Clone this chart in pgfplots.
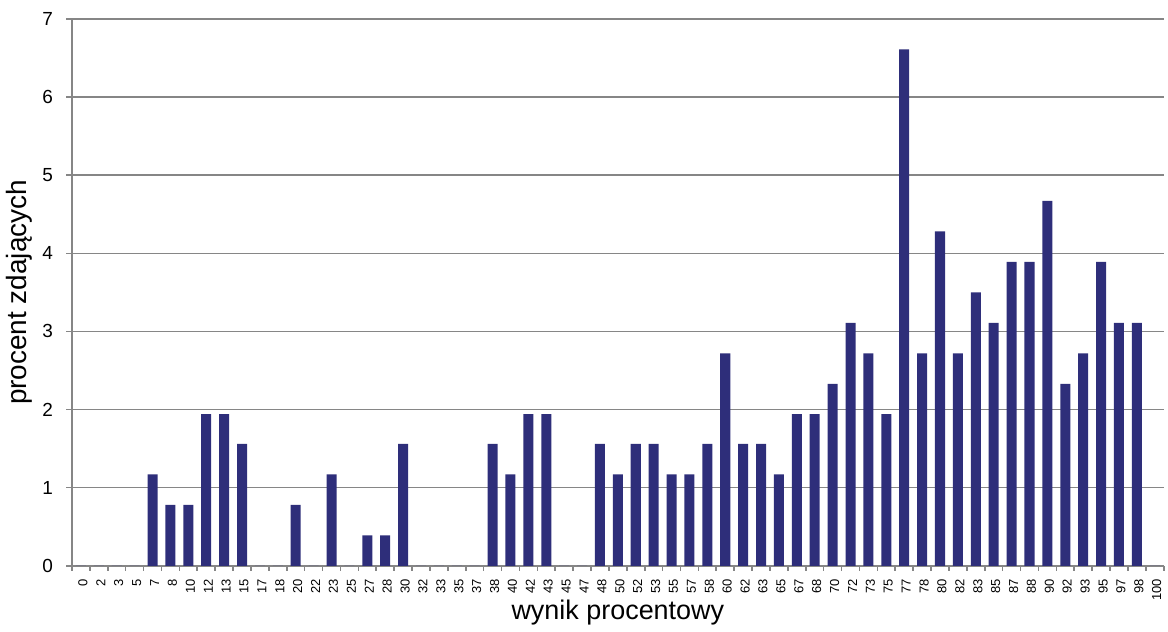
\documentclass[border=0pt]{standalone}
\usepackage{pgfplots}
\pgfplotsset{compat=1.18}
\usepackage{fontspec}
\setmainfont{Liberation Sans}
\definecolor{barblue}{RGB}{46,46,122}
\definecolor{axisgray}{RGB}{134,134,134}

\begin{document}
\begin{tikzpicture}
\begin{axis}[
  name=ax,
  scale only axis,
  width=547pt, height=274pt,
  ybar, bar width=0.56,
  xmin=-0.5, xmax=60.5,
  ymin=0, ymax=7,
  ytick={0,...,7},
  xtick={0,...,60},
  xticklabels={0,2,3,5,7,8,10,12,13,15,17,18,20,22,23,25,27,28,30,32,33,35,37,38,40,42,43,45,47,48,50,52,53,55,57,58,60,62,63,65,67,68,70,72,73,75,77,78,80,82,83,85,87,88,90,92,93,95,97,98,100},
  minor xtick={-0.5,0.5,...,60.5},
  axis lines=left,
  axis line style={-, draw=axisgray, line width=1.2pt},
  ymajorgrids,
  major grid style={draw=axisgray, line width=0.8pt},
  tick align=outside,
  major tick length=3pt, minor tick length=2.5pt,
  major x tick style={draw=none},
  minor x tick style={draw=axisgray, line width=0.8pt},
  ytick style={draw=axisgray, line width=0.8pt},
  xticklabel style={rotate=90, anchor=east, font=\fontsize{6.5}{7}\selectfont, yshift=-1pt},
  yticklabel style={font=\fontsize{9.5}{10}\selectfont, xshift=-3pt},
  /pgf/number format/assume math mode=true,
  xlabel={\fontsize{13.5}{15}\selectfont wynik procentowy},
  ylabel={\fontsize{14}{16}\selectfont procent zdających},
  xlabel style={yshift=7pt},
  ylabel style={yshift=-2pt},
]
\addplot[fill=barblue, draw=none] coordinates {
 (0,0) (1,0) (2,0) (3,0) (4,1.17) (5,0.78) (6,0.78) (7,1.94) (8,1.94) (9,1.56)
 (10,0) (11,0) (12,0.78) (13,0) (14,1.17) (15,0) (16,0.39) (17,0.39) (18,1.56) (19,0)
 (20,0) (21,0) (22,0) (23,1.56) (24,1.17) (25,1.94) (26,1.94) (27,0) (28,0) (29,1.56)
 (30,1.17) (31,1.56) (32,1.56) (33,1.17) (34,1.17) (35,1.56) (36,2.72) (37,1.56) (38,1.56) (39,1.17)
 (40,1.94) (41,1.94) (42,2.33) (43,3.11) (44,2.72) (45,1.94) (46,6.61) (47,2.72) (48,4.28) (49,2.72)
 (50,3.50) (51,3.11) (52,3.89) (53,3.89) (54,4.67) (55,2.33) (56,2.72) (57,3.89) (58,3.11) (59,3.11)
 (60,0)
};
\end{axis}
\path ([yshift=9.5pt]ax.north);
\end{tikzpicture}
\end{document}
